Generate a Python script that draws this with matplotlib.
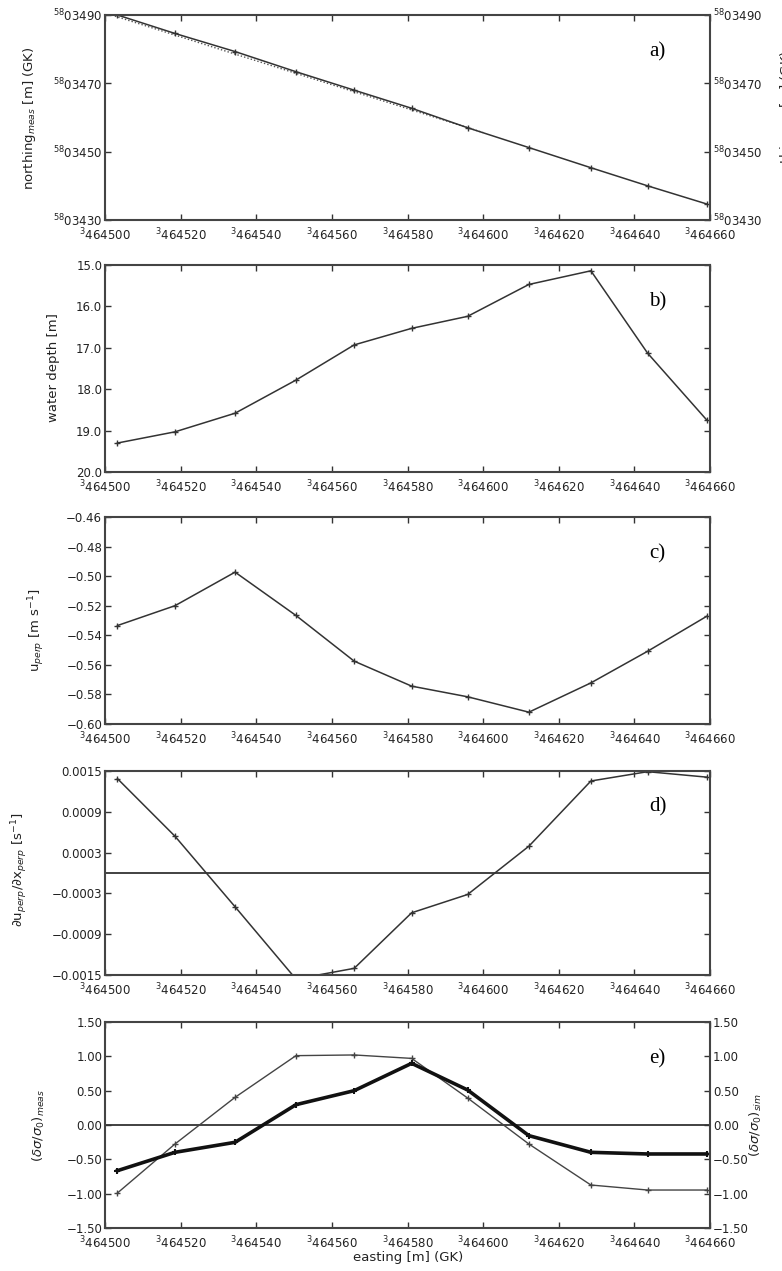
import matplotlib
matplotlib.use("Agg")
import matplotlib.pyplot as plt
import numpy as np

# easting of the profile points [m] (GK), offset 3400000 shown as superscript
easting = [464503.3, 464518.5, 464534.4, 464550.5, 464565.9, 464581.1,
           464595.9, 464612.1, 464628.5, 464643.5, 464659.1]

# a) northing [m] (GK)
northing = [5803490.0, 5803484.6, 5803479.3, 5803473.4, 5803468.0, 5803462.7,
            5803457.0, 5803451.2, 5803445.3, 5803440.0, 5803434.7]
track_e = [464500.0, 464600.0]
track_n = [5803490.6, 5803455.6]

# b) water depth [m]
depth = [19.30, 19.03, 18.58, 17.78, 16.93, 16.53, 16.24, 15.47, 15.14, 17.13, 18.74]

# c) u_perp [m s^-1]
uperp = [-0.5334, -0.5200, -0.4973, -0.5266, -0.5575, -0.5744,
         -0.5816, -0.5920, -0.5722, -0.5508, -0.5272]

# d) du_perp/dx_perp [s^-1]
dudx = [0.001387, 0.000541, -0.000497, -0.00156, -0.001402, -0.000585,
        -0.000316, 0.000394, 0.001353, 0.00149, 0.00141]

# e) radar contrast
meas = [-0.665, -0.398, -0.252, 0.296, 0.50, 0.898, 0.51, -0.155, -0.398, -0.422, -0.422]
sim = [-0.99, -0.277, 0.403, 1.01, 1.02, 0.97, 0.393, -0.277, -0.874, -0.947, -0.947]

xticks = [464500, 464520, 464540, 464560, 464580, 464600, 464620, 464640, 464660]
xticklabels = ["$^{3}$%d" % t for t in xticks]
nticks = [5803430, 5803450, 5803470, 5803490]
nticklabels = ["$^{58}$0%d" % (t - 5800000) for t in nticks]
dticks = [15.0, 16.0, 17.0, 18.0, 19.0, 20.0]
uticks = [-0.60, -0.58, -0.56, -0.54, -0.52, -0.50, -0.48, -0.46]
gticks = [-0.0015, -0.0009, -0.0003, 0.0003, 0.0009, 0.0015]
eticks = [-1.5, -1.0, -0.5, 0.0, 0.5, 1.0, 1.5]

def fmt(v, n):
    return ("%.*f" % (n, v)).replace("-", "\u2212")

W, H = 782, 1271
fig = plt.figure(figsize=(W / 100, H / 100), dpi=100)
plt.rcParams['font.family'] = 'DejaVu Sans'
col = '#333333'
tsize = 8.5

left = 105 / W
width = 605 / W
boxes = [(15, 220), (265, 472), (517, 724), (771, 975), (1022, 1228)]
axs = []
for top, bot in boxes:
    ax = fig.add_axes([left, 1 - bot / H, width, (bot - top) / H])
    ax.set_xlim(464500, 464660)
    ax.set_xticks(xticks)
    ax.set_xticklabels(xticklabels)
    ax.tick_params(direction='in', top=True, right=True, length=4, width=1,
                   labelsize=tsize, colors=col, labelcolor='#222222', pad=2)
    ax.tick_params(axis='x', pad=5)
    for s in ax.spines.values():
        s.set_linewidth(1.5)
        s.set_color('#444444')
    axs.append(ax)

lkw = dict(color='#333333', lw=1.1, marker='+', ms=4, mew=1)

# a)
ax = axs[0]
ax.plot(track_e, track_n, color='#555555', lw=1.0, ls=(0, (1, 1.5)))
ax.plot(easting, northing, **lkw)
ax.set_ylim(5803430, 5803490)
ax.set_yticks(nticks)
ax.set_yticklabels(nticklabels)
ax.tick_params(labelright=True)
ax.text(0.9, 0.8, "a)", transform=ax.transAxes, family='Liberation Serif', fontsize=15)
fig.text(30 / W, 1 - 118 / H, "northing$_{meas}$ [m] (GK)", rotation=90,
         ha='center', va='center', fontsize=9.5, color='#222222')
fig.text(786 / W, 1 - 118 / H, "northing$_{sim}$ [m] (GK)", rotation=90,
         ha='center', va='center', fontsize=9.5, color='#222222')

# b)
ax = axs[1]
ax.plot(easting, depth, **lkw)
ax.set_ylim(20.0, 15.0)
ax.set_yticks(dticks)
ax.set_yticklabels([fmt(t, 1) for t in dticks])
ax.text(0.9, 0.8, "b)", transform=ax.transAxes, family='Liberation Serif', fontsize=15)
fig.text(53 / W, 1 - 368 / H, "water depth [m]", rotation=90,
         ha='center', va='center', fontsize=9.5, color='#222222')

# c)
ax = axs[2]
ax.plot(easting, uperp, **lkw)
ax.set_ylim(-0.60, -0.46)
ax.set_yticks(uticks)
ax.set_yticklabels([fmt(t, 2) for t in uticks])
ax.text(0.9, 0.8, "c)", transform=ax.transAxes, family='Liberation Serif', fontsize=15)
fig.text(37 / W, 1 - 630 / H, "u$_{perp}$ [m s$^{-1}$]", rotation=90,
         ha='center', va='center', fontsize=9.5, color='#222222')

# d)
ax = axs[3]
ax.plot(easting, dudx, clip_on=True, **lkw)
ax.axhline(0.0, color='#333333', lw=1.3)
ax.set_ylim(-0.0015, 0.0015)
ax.set_yticks(gticks)
ax.set_yticklabels([fmt(t, 4) for t in gticks])
ax.text(0.9, 0.8, "d)", transform=ax.transAxes, family='Liberation Serif', fontsize=15)
fig.text(20 / W, 1 - 870 / H, r"$\partial$u$_{perp}$/$\partial$x$_{perp}$ [s$^{-1}$]",
         rotation=90, ha='center', va='center', fontsize=9.5, color='#222222')

# e)
ax = axs[4]
ax.axhline(0.0, color='#333333', lw=1.3)
ax.plot(easting, sim, color='#444444', lw=1.0, marker='+', ms=4, mew=1)
ax.plot(easting, meas, color='#111111', lw=2.6, marker='+', ms=5, mew=1.5)
ax.set_ylim(-1.5, 1.5)
ax.set_yticks(eticks)
ax.set_yticklabels([fmt(t, 2) for t in eticks])
ax.tick_params(labelright=True)
ax.text(0.9, 0.8, "e)", transform=ax.transAxes, family='Liberation Serif', fontsize=15)
fig.text(39 / W, 1 - 1125 / H, r"($\delta\sigma/\sigma_0$)$_{meas}$", rotation=90,
         ha='center', va='center', fontsize=9.5, color='#222222')
fig.text(756 / W, 1 - 1125 / H, r"($\delta\sigma/\sigma_0$)$_{sim}$", rotation=90,
         ha='center', va='center', fontsize=9.5, color='#222222')
fig.text(408 / W, 1 - 1258 / H, "easting [m] (GK)", ha='center', va='center',
         fontsize=9.5, color='#222222')

fig.savefig("out.png", dpi=100)
